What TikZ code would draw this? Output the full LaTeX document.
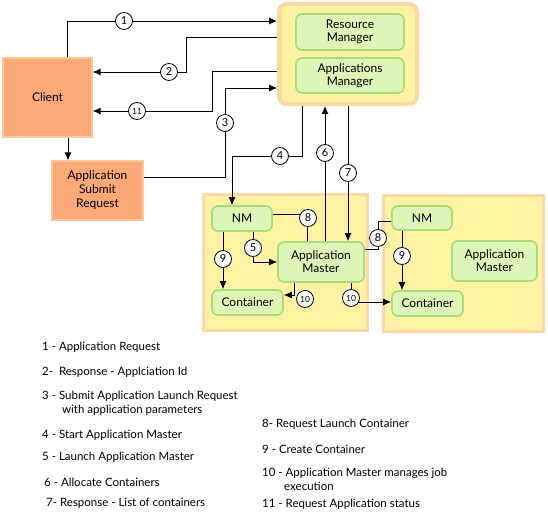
\documentclass[tikz,border=0pt]{standalone}
\usepackage{fontspec}
\setmainfont{Lato}
\usetikzlibrary{arrows.meta}
\definecolor{boxfill}{HTML}{FFF2A2}
\definecolor{boxline}{HTML}{FCD8A6}
\definecolor{gfill}{HTML}{DDF5B6}
\definecolor{gline}{HTML}{A8DB7A}
\definecolor{ofill}{HTML}{FDA877}
\definecolor{oline}{HTML}{FDC69B}
\tikzset{
  bigbox/.style={draw=boxline, fill=boxfill, line width=3pt, inner sep=0pt},
  gnode/.style={draw=gline, fill=gfill, line width=1.6pt, rounded corners=6pt, align=center, font=\fontsize{12}{13}\selectfont, inner sep=0pt},
  onode/.style={draw=oline, fill=ofill, line width=1.2pt, align=center, font=\fontsize{12}{14}\selectfont, inner sep=0pt},
  conn/.style={line width=0.9pt, draw=black},
  arr/.style={conn, -{Latex[length=8pt,width=7pt]}},
  num/.style={circle, draw=black, fill=white, line width=0.8pt, minimum size=17pt, inner sep=0pt, font=\fontsize{11}{11}\selectfont},
  numsm/.style={num, font=\fontsize{8.5}{8.5}\selectfont},
  leg/.style={anchor=west, inner sep=0pt, font=\fontsize{11.5}{12}\selectfont, align=left}
}
\begin{document}
\begin{tikzpicture}[x=1pt,y=-1pt]
\useasboundingbox (0,0) rectangle (548,518);
% containers
\node[bigbox, line width=4pt, rounded corners=8pt, minimum width=138pt, minimum height=100pt] (rmbox) at (348,54) {};
\node[bigbox, minimum width=164pt, minimum height=136pt] (nmbox1) at (285.5,262.5) {};
\node[bigbox, minimum width=160pt, minimum height=136pt] (nmbox2) at (463.5,263.5) {};
% nodes
\node[gnode, minimum width=108pt, minimum height=36pt] (rm) at (350,32) {Resource\\Manager};
\node[gnode, minimum width=108pt, minimum height=35pt] (am) at (350,75.5) {Applications\\Manager};
\node[onode, minimum width=89pt, minimum height=79pt] (client) at (47.5,97.5) {Client};
\node[onode, minimum width=91pt, minimum height=59pt] (asr) at (97.5,190.5) {Application\\Submit\\Request};
\node[gnode, minimum width=60pt, minimum height=25pt] (nm1) at (242,218.5) {NM};
\node[gnode, minimum width=86pt, minimum height=40pt] (am1) at (321,262) {Application\\Master};
\node[gnode, minimum width=71pt, minimum height=25pt] (c1) at (247.5,302.5) {Container};
\node[gnode, minimum width=60pt, minimum height=24pt] (nm2) at (422,218) {NM};
\node[gnode, minimum width=85pt, minimum height=40pt] (am2) at (494.5,261) {Application\\Master};
\node[gnode, minimum width=71pt, minimum height=25pt] (c2) at (427.5,303.5) {Container};
% connectors
\draw[arr] (67,0 |- client.north) |- (0,21 -| rmbox.west);
\draw[arr] (0,37 -| rmbox.west) -| (186,72) -- (0,72 -| client.east);
\draw[arr] (0,71 -| rmbox.west) -| (212,111) -- (0,111 -| client.east);
\draw[arr] (0,177 -| asr.east) -| (225,88) -- (0,88 -| rmbox.west);
\draw[arr] (68,0 |- client.south) -- (68,0 |- asr.north);
\draw[arr] (302,0 |- rmbox.south) |- (232,156) -- (232,0 |- nm1.north);
\draw[arr] (325,0 |- am1.north) -- (325,0 |- rmbox.south);
\draw[arr] (348,0 |- rmbox.south) -- (348,0 |- am1.north);
\draw[conn] (0,214 -| nm1.east) -| (307,0 |- am1.north);
\draw[arr] (253,0 |- nm1.south) |- (0,262 -| am1.west);
\draw[arr] (223,0 |- nm1.south) -- (223,0 |- c1.north);
\draw[arr] (294,0 |- am1.south) |- (0,295 -| c1.east);
\draw[arr] (351,0 |- am1.south) |- (0,302 -| c2.west);
\draw[conn] (0,249 -| am1.east) -| (378,221) -- (0,221 -| nm2.west);
\draw[arr] (402,0 |- nm2.south) -- (402,0 |- c2.north);
% number circles
\node[num] (n1) at (124,21) {1};
\node[num] (n2) at (169,72) {2};
\node[numsm] (n11) at (137,111) {11};
\node[num] (n3) at (225,123) {3};
\node[num] (n4) at (280,156) {4};
\node[num] (n6) at (325,153) {6};
\node[num] (n7) at (348,173) {7};
\node[num] (n8a) at (308,218) {8};
\node[num] (n5) at (253,248) {5};
\node[num] (n9a) at (223,259) {9};
\node[numsm] (n10a) at (305,299) {10};
\node[numsm] (n10b) at (351,298) {10};
\node[num] (n8b) at (378,238) {8};
\node[num] (n9b) at (402,256) {9};
% legend
\node[leg] (l1) at (42,347) {1 - Application Request};
\node[leg] (l2) at (42,372) {2-\ \ Response - Applciation Id};
\node[leg] (l3) at (42,396) {3 - Submit Application Launch Request};
\node[leg] (l3b) at (62,410) {with application parameters};
\node[leg] (l4) at (42,435) {4 - Start Application Master};
\node[leg] (l5) at (42,457) {5 - Launch Application Master};
\node[leg] (l6) at (44,482) {6 - Allocate Containers};
\node[leg] (l7) at (46,503) {7- Response - List of containers};
\node[leg] (l8) at (262,424) {8- Request Launch Container};
\node[leg] (l9) at (262,449) {9 - Create Container};
\node[leg] (l10) at (262,473) {10 - Application Master manages job};
\node[leg] (l10b) at (284,486) {execution};
\node[leg] (l11) at (262,504) {11 - Request Application status};
\end{tikzpicture}
\end{document}
